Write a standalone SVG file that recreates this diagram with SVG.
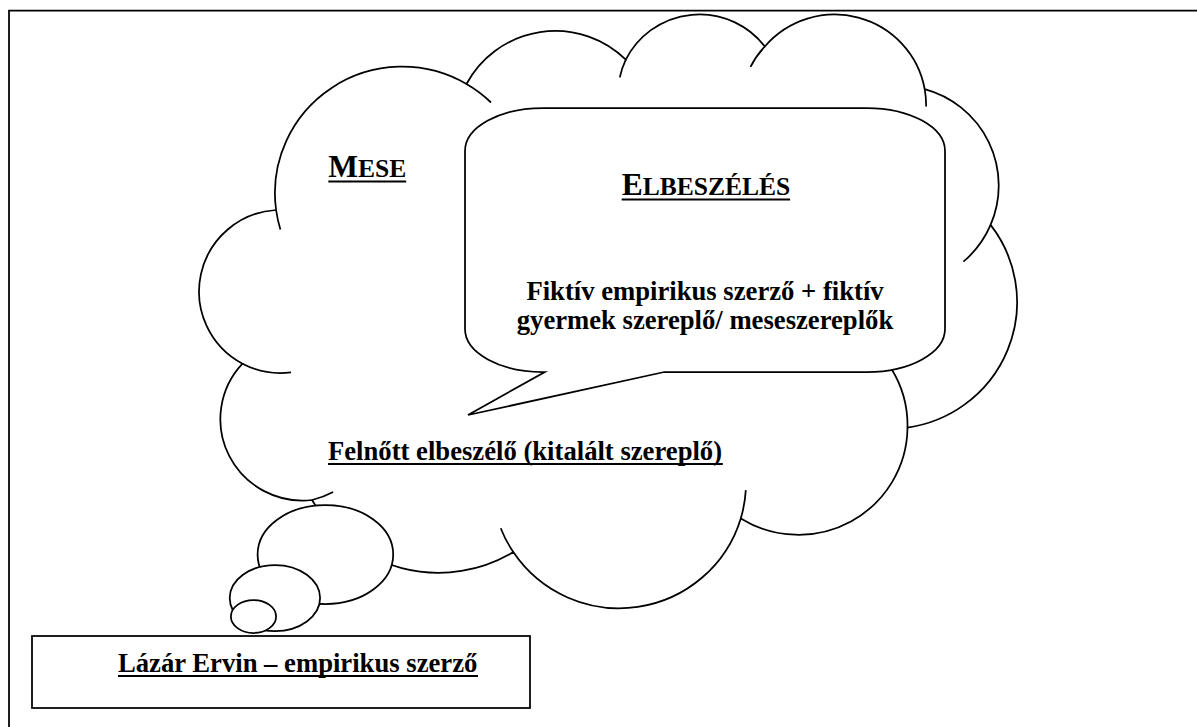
<svg xmlns="http://www.w3.org/2000/svg" width="1197" height="727" viewBox="0 0 1197 727">
<style>
.ln{fill:none;stroke:#000;stroke-width:1.75}
.sh{fill:#fff;stroke:#000;stroke-width:1.75}
.t{font-family:"Liberation Serif","Times New Roman",serif;font-weight:bold;fill:#000}
.ul{stroke:#000;stroke-width:2.2}
</style>
<rect width="1197" height="727" fill="#fff"/>
<path id="frame" class="ln" stroke-width="2" d="M9,727 V10.5 H1197"/>
<g id="cloud">
<path class="sh" d="M276.1,210.0 A127.25,126.30 0 0 1 466.5,84.0 A100.49,99.87 0 0 1 625.8,59.7 A82.25,81.70 0 0 1 764.8,46.5 A91.52,90.64 0 0 1 924.7,89.1 A100.49,99.95 0 0 1 990.6,224.9 A127.66,126.71 0 0 1 907.5,427.6 A109.01,108.12 0 0 1 740.8,518.4 A127.23,126.64 0 0 1 513.3,552.1 A145.47,144.89 0 0 1 312.1,500.0 A82.16,81.33 0 0 1 242.5,363.7 A81.87,81.70 0 0 1 276.1,210.0 Z"/>
<path class="ln" d="M466.5,84.0 A127.25,126.30 0 0 1 491.0,102.5 M619.8,77.4 A82.25,81.70 0 0 1 625.8,59.7 M750.5,66.8 A91.52,90.64 0 0 1 764.8,46.5 M924.7,89.1 A91.52,90.64 0 0 1 926.1,106.4 M990.6,224.9 A100.49,99.95 0 0 1 963.4,261.7 M845.7,328.0 A109.01,108.12 0 0 1 907.5,427.6 M745.8,490.1 A127.23,126.64 0 0 1 740.8,518.4 M513.3,552.1 A127.23,126.64 0 0 1 500.7,528.2 M333.1,492.1 A82.16,81.33 0 0 1 312.1,500.0 M291.0,372.3 A81.87,81.70 0 0 1 242.5,363.7 M280.4,229.5 A127.25,126.30 0 0 1 276.1,210.0"/>
<text class="t" x="328.3" y="177" font-size="31.5">M<tspan font-size="25.5">ESE</tspan></text>
<line class="ul" x1="328.3" y1="181.5" x2="406.2" y2="181.5"/>
<text class="t" x="328" y="460" font-size="26.67">Felnőtt elbeszélő (kitalált szereplő)</text>
<line class="ul" x1="328" y1="464" x2="722.8" y2="464"/>
</g>
<g id="bubble">
<path class="sh" d="M543,108 H867 A78,43 0 0 1 945,151 V329 A78,43 0 0 1 867,372 H664.3 L468,415 L544.8,372 H543 A78,43 0 0 1 465,329 V151 A78,43 0 0 1 543,108 Z"/>
<text class="t" x="621.7" y="195" font-size="31.5">E<tspan font-size="25.5">LBESZÉLÉS</tspan></text>
<line class="ul" x1="621.7" y1="199.5" x2="790.1" y2="199.5"/>
<text class="t" x="705" y="300" font-size="26.67" text-anchor="middle">Fiktív empirikus szerző + fiktív</text>
<text class="t" x="705" y="329" font-size="26.67" text-anchor="middle">gyermek szereplő/ meseszereplők</text>
</g>
<g id="thought-large"><ellipse class="sh" cx="325.4" cy="554.5" rx="67.8" ry="49.5"/></g>
<g id="thought-medium"><ellipse class="sh" cx="274.9" cy="598.1" rx="45.2" ry="33.0"/></g>
<g id="thought-small"><ellipse class="sh" cx="253.5" cy="616.5" rx="22.6" ry="16.5"/></g>
<g id="author">
<rect class="sh" x="32" y="636" width="498" height="72"/>
<text class="t" x="118" y="672" font-size="26.67">Lázár Ervin – empirikus szerző</text>
<line class="ul" x1="118" y1="676" x2="478" y2="676"/>
</g>
</svg>
